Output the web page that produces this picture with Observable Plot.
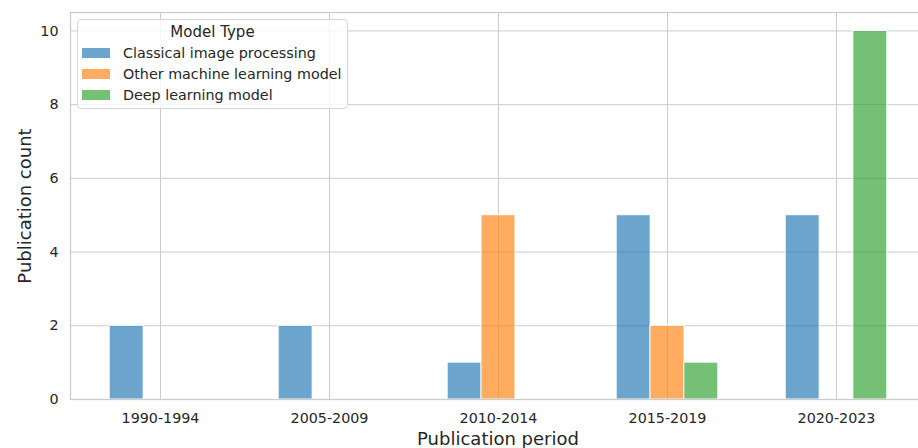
<!DOCTYPE html>
<html>
<head>
<meta charset="utf-8">
<script src="https://cdn.jsdelivr.net/npm/d3@7"></script>
<script src="https://cdn.jsdelivr.net/npm/@observablehq/plot@0.6"></script>
<style>
  html, body { margin: 0; padding: 0; background: #fff; }
  #wrap { position: relative; width: 918px; height: 448px; overflow: hidden; font-family: "DejaVu Sans", sans-serif; color: #262626; }
  #wrap svg { display: block; overflow: hidden; }
  .legend { position: absolute; left: 77px; top: 19px; width: 271px; height: 90px; box-sizing: border-box;
            border: 1px solid #d6d6d6; border-radius: 4px; background: rgba(255,255,255,0.8); }
  .legend .title { position: absolute; left: 0; right: 0; top: 2px; text-align: center; font-size: 15px; line-height: 20px; }
  .legend .row { position: absolute; left: 4px; height: 21px; display: flex; align-items: center; font-size: 14.3px; white-space: nowrap; }
  .legend .swatch { width: 28px; height: 10px; margin-right: 13px; }
</style>
</head>
<body>
<div id="wrap"></div>
<script>
// Publication periods (x categories)
const periods = ["1990-1994", "2005-2009", "2010-2014", "2015-2019", "2020-2023"];
// Model types (hue groups)
const models = ["Classical image processing", "Other machine learning model", "Deep learning model"];
const colors = ["#1f77b4", "#ff7f0e", "#2ca02c"];
// Publication counts per period, one list per model type
const classical = [2, 2, 1, 5, 5];
const otherML = [0, 0, 5, 2, 0];
const deepLearning = [0, 0, 0, 1, 10];
const yTicks = [0, 2, 4, 6, 8, 10];

const series = [classical, otherML, deepLearning];
const rows = [];
series.forEach((vals, m) => vals.forEach((v, i) => rows.push({period: periods[i], model: models[m], count: v})));

const width = 918, height = 448;
const marginLeft = 70, marginRight = -7, marginTop = 12, marginBottom = 49;
const xOptions = {type: "band", domain: periods, range: [marginLeft, width - marginRight], paddingInner: 0.8, paddingOuter: 0.427};
// One dodge slot equals the band width of the period scale
const slot = Plot.scale({x: xOptions}).bandwidth;

const grid = "#cccccc";
const textColor = "#262626";
const barOpacity = 0.66;

const chart = Plot.plot({
  width, height, marginLeft, marginRight, marginTop, marginBottom,
  style: {fontFamily: "DejaVu Sans, sans-serif", fontSize: "14.3px", color: textColor, background: "white"},
  x: {...xOptions, label: null, tickSize: 0, tickPadding: 13},
  y: {domain: [0, 10.5], ticks: yTicks, label: null, tickSize: 0, tickPadding: 12},
  color: {domain: models, range: colors},
  marks: [
    Plot.ruleY(yTicks, {stroke: grid, strokeWidth: 1}),
    Plot.ruleX(periods, {stroke: grid, strokeWidth: 1}),
    ...models.map((m, k) => Plot.barY(rows.filter(d => d.model === m && d.count > 0), {
      x: "period", y: "count", fill: "model", fillOpacity: barOpacity,
      stroke: "white", strokeWidth: 1, dx: (k - 1) * slot
    })),
    Plot.frame({stroke: grid, strokeWidth: 1.3}),
    Plot.text(["Publication period"], {frameAnchor: "bottom", dy: 45, text: d => d, fontSize: 18, fill: textColor}),
    Plot.text(["Publication count"], {frameAnchor: "left", textAnchor: "middle", dx: -45, rotate: -90, text: d => d, fontSize: 18, fill: textColor})
  ]
});

const wrap = document.getElementById("wrap");
wrap.appendChild(chart);

// Legend box over the upper-left corner of the plot
const legend = document.createElement("div");
legend.className = "legend";
const title = document.createElement("div");
title.className = "title";
title.textContent = "Model Type";
legend.appendChild(title);
models.forEach((m, k) => {
  const row = document.createElement("div");
  row.className = "row";
  row.style.top = (22.5 + k * 21) + "px";
  const sw = document.createElement("div");
  sw.className = "swatch";
  sw.style.background = colors[k];
  sw.style.opacity = barOpacity;
  const label = document.createElement("span");
  label.textContent = m;
  row.appendChild(sw);
  row.appendChild(label);
  legend.appendChild(row);
});
wrap.appendChild(legend);
</script>
</body>
</html>
